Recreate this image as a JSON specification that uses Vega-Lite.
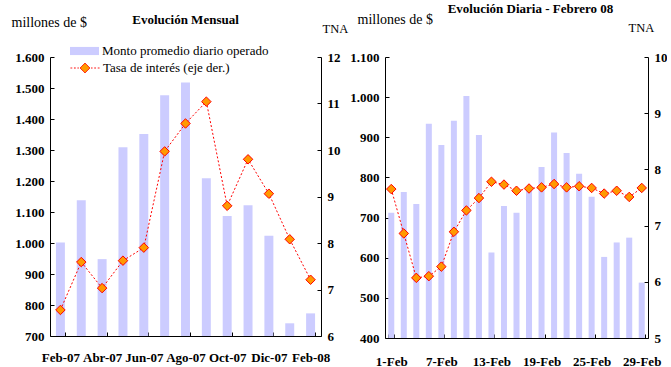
{
  "$schema": "https://vega.github.io/schema/vega-lite/v6.json",
  "padding": {"left": 11, "top": 3, "right": 0, "bottom": 0},
  "bounds": "flush",
  "spacing": 64,
  "background": "#ffffff",
  "config": {
    "font": "Liberation Serif",
    "view": {"stroke": null},
    "axis": {
      "grid": false,
      "domainColor": "#000000",
      "tickColor": "#000000",
      "labelFont": "Liberation Serif",
      "labelFontWeight": "bold",
      "labelFontSize": 13,
      "labelColor": "#000000",
      "titleFont": "Liberation Serif",
      "titleFontWeight": "normal",
      "titleFontSize": 13,
      "titleColor": "#000000",
      "tickSize": -4,
      "labelPadding": 10,
      "domainWidth": 1,
      "tickWidth": 1
    }
  },
  "datasets": {
    "mensual": [
      {"mes": "Feb-07", "monto": 1002, "tasa": 6.56},
      {"mes": "Mar-07", "monto": 1138, "tasa": 7.59},
      {"mes": "Abr-07", "monto": 948, "tasa": 7.03},
      {"mes": "May-07", "monto": 1309, "tasa": 7.62},
      {"mes": "Jun-07", "monto": 1352, "tasa": 7.90},
      {"mes": "Jul-07", "monto": 1477, "tasa": 9.97},
      {"mes": "Ago-07", "monto": 1518, "tasa": 10.57},
      {"mes": "Sep-07", "monto": 1209, "tasa": 11.04},
      {"mes": "Oct-07", "monto": 1087, "tasa": 8.80},
      {"mes": "Nov-07", "monto": 1122, "tasa": 9.80},
      {"mes": "Dic-07", "monto": 1023, "tasa": 9.06},
      {"mes": "Ene-08", "monto": 741, "tasa": 8.08},
      {"mes": "Feb-08", "monto": 773, "tasa": 7.21}
    ],
    "diaria": [
      {"dia": "1-Feb", "monto": 712, "tasa": 7.65},
      {"dia": "4-Feb", "monto": 764, "tasa": 6.86},
      {"dia": "5-Feb", "monto": 734, "tasa": 6.07},
      {"dia": "6-Feb", "monto": 934, "tasa": 6.10},
      {"dia": "7-Feb", "monto": 881, "tasa": 6.27},
      {"dia": "8-Feb", "monto": 941, "tasa": 6.89},
      {"dia": "11-Feb", "monto": 1003, "tasa": 7.27},
      {"dia": "12-Feb", "monto": 906, "tasa": 7.49},
      {"dia": "13-Feb", "monto": 613, "tasa": 7.78},
      {"dia": "14-Feb", "monto": 729, "tasa": 7.73},
      {"dia": "15-Feb", "monto": 712, "tasa": 7.62},
      {"dia": "18-Feb", "monto": 767, "tasa": 7.66},
      {"dia": "19-Feb", "monto": 826, "tasa": 7.68},
      {"dia": "20-Feb", "monto": 912, "tasa": 7.74},
      {"dia": "21-Feb", "monto": 861, "tasa": 7.68},
      {"dia": "22-Feb", "monto": 809, "tasa": 7.70},
      {"dia": "25-Feb", "monto": 752, "tasa": 7.67},
      {"dia": "26-Feb", "monto": 602, "tasa": 7.57},
      {"dia": "27-Feb", "monto": 638, "tasa": 7.62},
      {"dia": "28-Feb", "monto": 650, "tasa": 7.51},
      {"dia": "29-Feb", "monto": 538, "tasa": 7.67}
    ]
  },
  "resolve": {"legend": {"fill": "independent", "stroke": "independent"}},
  "hconcat": [
    {
      "width": 271,
      "height": 279,
      "title": {"text": "Evolución Mensual", "frame": "group", "anchor": "middle", "baseline": "alphabetic", "offset": -22, "fontSize": 13, "fontWeight": "bold", "font": "Liberation Serif", "color": "#000000"},
      "data": {"name": "mensual"},
      "encoding": {
        "x": {
          "field": "mes", "type": "ordinal", "sort": null,
          "scale": {"paddingInner": 0.57, "paddingOuter": 0.285},
          "axis": {"title": null, "values": ["Feb-07", "Abr-07", "Jun-07", "Ago-07", "Oct-07", "Dic-07", "Feb-08"], "tickBand": "extent", "labelAngle": 0, "labelPadding": 19}
        }
      },
      "layer": [
        {
          "mark": {"type": "bar"},
          "encoding": {
            "y": {
              "field": "monto", "type": "quantitative",
              "scale": {"domain": [700, 1600], "nice": false, "zero": false},
              "axis": {"title": "millones de $", "titleFontSize": 14, "titleAngle": 0, "titleAlign": "left", "titleBaseline": "alphabetic", "titleX": -39, "titleY": -31, "values": [700, 800, 900, 1000, 1100, 1200, 1300, 1400, 1500, 1600], "labelExpr": "replace(format(datum.value, ','), ',', '.')"}
            },
            "y2": {"datum": 700},
            "fill": {
              "datum": "Monto promedio diario operado",
              "scale": {"range": ["#ccccff"]},
              "legend": {"orient": "none", "legendX": 20, "legendY": -20.5, "title": null, "padding": 0, "symbolType": "M-1,-0.28H1V0.28H-1Z", "symbolSize": 841, "symbolStrokeWidth": 0, "labelFontSize": 13, "labelFont": "Liberation Serif", "labelColor": "#000000", "labelFontWeight": "normal", "labelOffset": 3, "labelLimit": 400}
            }
          }
        },
        {
          "encoding": {
            "y": {
              "field": "tasa", "type": "quantitative",
              "scale": {"domain": [6, 12], "nice": false, "zero": false},
              "axis": {"orient": "right", "title": "TNA", "titleFontSize": 12.5, "titleAngle": 0, "titleAlign": "left", "titleBaseline": "alphabetic", "titleX": 1, "titleY": -25, "values": [6, 7, 8, 9, 10, 11, 12]}
            }
          },
          "layer": [
            {
              "mark": {"type": "line", "strokeDash": [2, 2], "strokeWidth": 1},
              "encoding": {
                "stroke": {
                  "datum": "Tasa de interés (eje der.)",
                  "scale": {"range": ["#ff0000"]},
                  "legend": {"orient": "none", "legendX": 20, "legendY": -4, "title": null, "padding": 0, "symbolType": "M-1,0H-0.88M-0.76,0H-0.64M-0.52,0H-0.42M0.42,0H0.52M0.64,0H0.76M0.88,0H1M0,-0.34L0.34,0L0,0.34L-0.34,0Z", "symbolSize": 841, "symbolStrokeWidth": 1, "symbolFillColor": "#ff9900", "symbolStrokeColor": "#ff0000", "labelFontSize": 13, "labelFont": "Liberation Serif", "labelColor": "#000000", "labelFontWeight": "normal", "labelOffset": 3, "labelLimit": 400,
                    "encode": {"symbols": {"update": {"fill": {"value": "#ff9900"}, "stroke": {"value": "#ff0000"}, "strokeDash": {"value": [1, 0]}, "opacity": {"value": 1}}}}}
                }
              }
            },
            {
              "mark": {"type": "point", "shape": "diamond", "size": 90, "filled": true, "fill": "#ff9900", "stroke": "#ff0000", "strokeWidth": 1, "opacity": 1},
              "encoding": {}
            }
          ]
        }
      ],
      "resolve": {"scale": {"y": "independent"}}
    },
    {
      "width": 263,
      "height": 281,
      "title": {"text": "Evolución Diaria - Febrero 08", "frame": "group", "anchor": "middle", "baseline": "alphabetic", "offset": -14, "dx": 14, "fontSize": 13, "fontWeight": "bold", "font": "Liberation Serif", "color": "#000000"},
      "data": {"name": "diaria"},
      "encoding": {
        "x": {
          "field": "dia", "type": "ordinal", "sort": null,
          "scale": {"paddingInner": 0.52, "paddingOuter": 0.26},
          "axis": {"title": null, "values": ["1-Feb", "7-Feb", "13-Feb", "19-Feb", "25-Feb", "29-Feb"], "tickBand": "extent", "labelAngle": 0, "labelPadding": 21}
        }
      },
      "layer": [
        {
          "mark": {"type": "bar", "color": "#ccccff"},
          "encoding": {
            "y": {
              "field": "monto", "type": "quantitative",
              "scale": {"domain": [400, 1100], "nice": false, "zero": false},
              "axis": {"title": "millones de $", "titleFontSize": 14, "titleAngle": 0, "titleAlign": "left", "titleBaseline": "alphabetic", "titleX": -28, "titleY": -34, "values": [400, 500, 600, 700, 800, 900, 1000, 1100], "labelExpr": "replace(format(datum.value, ','), ',', '.')"}
            },
            "y2": {"datum": 400}
          }
        },
        {
          "encoding": {
            "y": {
              "field": "tasa", "type": "quantitative",
              "scale": {"domain": [5, 10], "nice": false, "zero": false},
              "axis": {"orient": "right", "title": "TNA", "titleFontSize": 12.5, "titleAngle": 0, "titleAlign": "left", "titleBaseline": "alphabetic", "titleX": -20, "titleY": -26, "values": [5, 6, 7, 8, 9, 10]}
            }
          },
          "layer": [
            {
              "mark": {"type": "line", "strokeDash": [2, 2], "strokeWidth": 1, "color": "#ff0000"},
              "encoding": {}
            },
            {
              "mark": {"type": "point", "shape": "diamond", "size": 90, "filled": true, "fill": "#ff9900", "stroke": "#ff0000", "strokeWidth": 1, "opacity": 1},
              "encoding": {}
            }
          ]
        }
      ],
      "resolve": {"scale": {"y": "independent"}}
    }
  ]
}
